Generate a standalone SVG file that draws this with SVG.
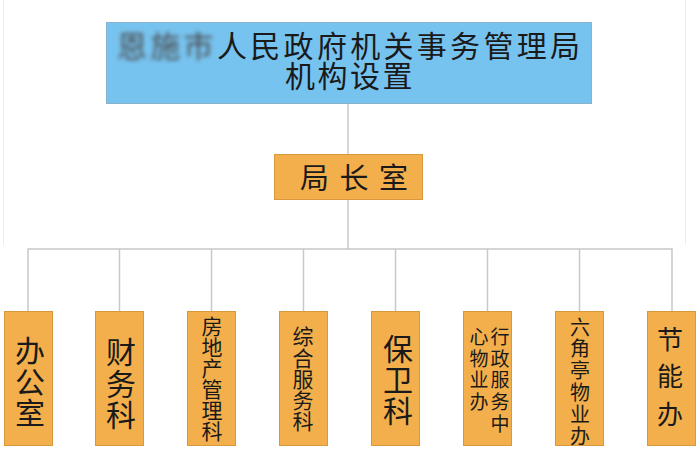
<svg xmlns="http://www.w3.org/2000/svg" width="700" height="450" viewBox="0 0 700 450">
<defs>
<style>
.t{font-family:"Noto Sans CJK SC","Noto Sans CJK JP",sans-serif;fill:#1a1a1a}
.v{writing-mode:vertical-rl;text-orientation:upright}
.box{fill:#F3AF4B;stroke:#D8983E;stroke-width:1}
.ln{stroke:#C8C8C8;stroke-width:1.5;fill:none}
.edge{stroke:#EDEDED;stroke-width:1;fill:none}
</style>
<filter id="blur" x="-10%" y="-30%" width="120%" height="160%"><feGaussianBlur stdDeviation="2.2"/></filter>
</defs>
<rect width="700" height="450" fill="#FFFFFF"/>
<g id="page-edges">
<line class="edge" x1="3.5" y1="0" x2="3.5" y2="245"/>
<line class="edge" x1="685.5" y1="0" x2="685.5" y2="245"/>
</g>
<g id="connectors">
<line class="ln" x1="348" y1="104" x2="348" y2="154"/>
<line class="ln" x1="348" y1="200" x2="348" y2="249"/>
<polyline class="ln" points="28,311 28,249 672,249 672,311"/>
<line class="ln" x1="119.5" y1="249" x2="119.5" y2="311"/>
<line class="ln" x1="211.5" y1="249" x2="211.5" y2="311"/>
<line class="ln" x1="303.5" y1="249" x2="303.5" y2="311"/>
<line class="ln" x1="395.5" y1="249" x2="395.5" y2="311"/>
<line class="ln" x1="487.5" y1="249" x2="487.5" y2="311"/>
<line class="ln" x1="579.5" y1="249" x2="579.5" y2="311"/>
</g>
<g id="title">
<rect x="106.5" y="22.5" width="485" height="81" fill="#77C3EF" stroke="#8AB3CB" stroke-width="1"/>
<text class="t" x="117" y="57" font-size="30" letter-spacing="3.3" style="fill:#4a4a4a" filter="url(#blur)">恩施市</text>
<text class="t" font-size="30"><tspan x="217" y="57" letter-spacing="3.3">人民政府机关事务管理局</tspan><tspan x="285" y="87" letter-spacing="2.5">机构设置</tspan></text>
</g>
<g id="director">
<rect class="box" x="274.5" y="154.5" width="148" height="45"/>
<text class="t" x="300" y="189" font-size="29" letter-spacing="10.5">局长室</text>
</g>
<g id="n1">
<rect class="box" x="4.5" y="311.5" width="48" height="134"/>
<text class="t v" x="30" y="336" font-size="30" letter-spacing="1">办公室</text>
</g>
<g id="n2">
<rect class="box" x="95.5" y="311.5" width="48" height="134"/>
<text class="t v" x="121" y="337" font-size="30" letter-spacing="1.5">财务科</text>
</g>
<g id="n3">
<rect class="box" x="187.5" y="311.5" width="48" height="134"/>
<text class="t v" x="212" y="316" font-size="21">房地产管理科</text>
</g>
<g id="n4">
<rect class="box" x="279.5" y="311.5" width="48" height="134"/>
<text class="t v" x="303" y="326" font-size="21" letter-spacing="0.2">综合服务科</text>
</g>
<g id="n5">
<rect class="box" x="371.5" y="311.5" width="48" height="134"/>
<text class="t v" x="398" y="334" font-size="30" letter-spacing="1">保卫科</text>
</g>
<g id="n6">
<rect class="box" x="463.5" y="311.5" width="48" height="134"/>
<text class="t v" x="500" y="327" font-size="19" letter-spacing="2.8">行政服务中</text>
<text class="t v" x="479" y="327" font-size="19" letter-spacing="2.8">心物业办</text>
</g>
<g id="n7">
<rect class="box" x="555.5" y="311.5" width="48" height="134"/>
<text class="t v" x="580" y="317" font-size="20" letter-spacing="1.8">六角亭物业办</text>
</g>
<g id="n8">
<rect class="box" x="647.5" y="311.5" width="48" height="134"/>
<text class="t v" x="670" y="326" font-size="26" letter-spacing="11.5">节能办</text>
</g>
</svg>
